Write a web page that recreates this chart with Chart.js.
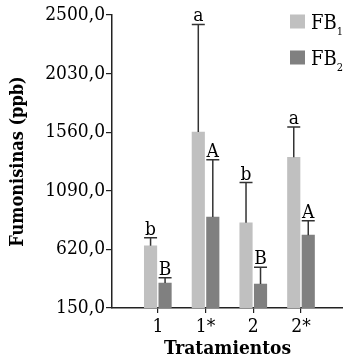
<!DOCTYPE html>
<html><head><meta charset="utf-8">
<script src="https://cdn.jsdelivr.net/npm/chart.js@4/dist/chart.umd.min.js"></script>
<style>html,body{margin:0;padding:0;background:#fff;}</style>
</head><body>
<canvas id="c" width="343" height="358"></canvas>
<script>
const categories = ['1', '1*', '2', '2*'];
const seriesBase = ['FB', 'FB'];
const seriesSub = ['1', '2'];
const fb1 = [649, 1561, 833, 1359];
const fb2 = [350, 879, 342, 734];
const fb1Sd = [64, 863, 323, 243];
const fb2Sd = [43, 461, 134, 115];
const fb1Letters = ['b', 'a', 'b', 'a'];
const fb2Letters = ['B', 'A', 'B', 'A'];
const yTicks = [150, 620, 1090, 1560, 2030, 2500];
const yTickLabels = ['150,0', '620,0', '1090,0', '1560,0', '2030,0', '2500,0'];

const FONT = "'DejaVu Serif Condensed', 'DejaVu Serif', serif";
const colors = ['#c0c0c0', '#808080'];
const sds = [fb1Sd, fb2Sd];
const letters = [fb1Letters, fb2Letters];

const errPlugin = {
  id: 'err',
  afterDatasetsDraw(chart) {
    const ctx = chart.ctx, y = chart.scales.y;
    ctx.save();
    chart.data.datasets.forEach((ds, di) => {
      const meta = chart.getDatasetMeta(di);
      meta.data.forEach((bar, i) => {
        const v = ds.data[i].y;
        const top = y.getPixelForValue(v + sds[di][i]);
        ctx.strokeStyle = '#333';
        ctx.lineWidth = 1.5;
        ctx.beginPath();
        ctx.moveTo(bar.x, bar.y);
        ctx.lineTo(bar.x, top);
        ctx.moveTo(bar.x - 6.5, top);
        ctx.lineTo(bar.x + 6.5, top);
        ctx.stroke();
        ctx.fillStyle = '#000';
        ctx.font = '19px ' + FONT;
        ctx.textAlign = 'center';
        ctx.textBaseline = 'alphabetic';
        ctx.fillText(letters[di][i], bar.x, top - 3);
      });
    });
    ctx.restore();
  }
};

const legendPlugin = {
  id: 'customLegend',
  afterDraw(chart) {
    const ctx = chart.ctx;
    ctx.save();
    const rows = [21.5, 57.5];
    rows.forEach((cy, i) => {
      ctx.fillStyle = colors[i];
      ctx.fillRect(290, cy - 7, 15, 14);
      ctx.fillStyle = '#000';
      ctx.textAlign = 'left';
      ctx.textBaseline = 'alphabetic';
      ctx.font = '20px ' + FONT;
      ctx.fillText(seriesBase[i], 311, cy + 7.5);
      const w = ctx.measureText(seriesBase[i]).width;
      ctx.font = '11px ' + FONT;
      ctx.fillText(seriesSub[i], 311 + w, cy + 13);
    });
    ctx.restore();
  }
};

new Chart(document.getElementById('c'), {
  type: 'bar',
  data: {
    datasets: [0, 1].map(di => ({
      label: seriesBase[di] + seriesSub[di],
      data: (di === 0 ? fb1 : fb2).map((v, i) => ({ x: i + 1, y: v })),
      backgroundColor: colors[di],
      borderWidth: 0,
      barThickness: 14.5,
      maxBarThickness: 12.5
    }))
  },
  options: {
    responsive: false,
    animation: false,
    devicePixelRatio: 1,
    layout: { padding: { top: 15, right: 0, left: 0, bottom: 0 } },
    plugins: { legend: { display: false }, tooltip: { enabled: false } },
    scales: {
      x: {
        type: 'linear',
        min: 0.04, max: 4.88,
        offset: false,
        afterBuildTicks: s => { s.ticks = categories.map((c, i) => ({ value: i + 1 })); },
        ticks: {
          callback: v => categories[v - 1],
          font: { family: FONT, size: 19 },
          color: '#000',
          padding: 3,
          autoSkip: false,
          maxRotation: 0
        },
        grid: { offset: false, drawOnChartArea: false, drawTicks: true, tickLength: 5, color: '#222', lineWidth: 1.2 },
        border: { display: true, color: '#222', width: 1.5 },
        title: { display: true, text: 'Tratamientos', font: { family: FONT, size: 19, weight: 'bold' }, color: '#000', padding: { top: 0, bottom: -2 } },
        afterFit: s => { s.height = 50; }
      },
      y: {
        min: 150, max: 2500,
        afterBuildTicks: s => { s.ticks = yTicks.map(v => ({ value: v })); },
        ticks: {
          callback: v => yTickLabels[yTicks.indexOf(v)],
          font: { family: FONT, size: 19 },
          color: '#000',
          padding: 1
        },
        grid: { drawOnChartArea: false, drawTicks: true, tickLength: 6, color: '#222', lineWidth: 1.2 },
        border: { display: true, color: '#222', width: 1.5 },
        title: { display: true, text: 'Fumonisinas (ppb)', font: { family: FONT, size: 18, weight: 'bold' }, color: '#000', padding: { top: 8, bottom: 0 } },
        afterFit: s => { s.width = 112; }
      }
    }
  },
  plugins: [errPlugin, legendPlugin]
});
</script>
</body></html>
